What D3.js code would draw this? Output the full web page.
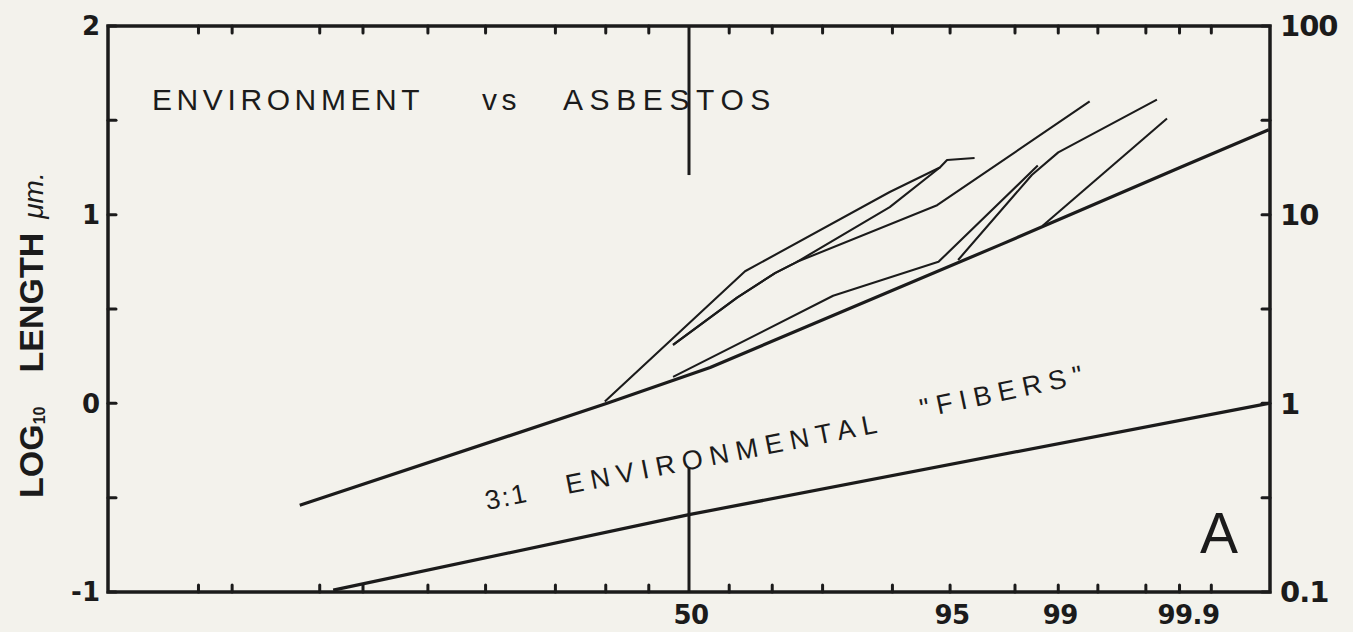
<!DOCTYPE html>
<html>
<head>
<meta charset="utf-8">
<script src="https://cdn.jsdelivr.net/npm/d3@7"></script>
<style>
  html, body { margin: 0; padding: 0; background: #f3f2ec; }
  svg { display: block; }
</style>
</head>
<body>
<svg id="chart" width="1353" height="632"></svg>
<script>
// ---------------- data ----------------
// x: cumulative percent (normal probability scale), y: log10 length (um)
const probDomain = [0.0126, 99.9874];
const probTicks = [0.1, 0.2, 1, 2, 5, 10, 20, 30, 40, 60, 70, 80, 90, 95, 98, 99, 99.5, 99.8, 99.9, 99.95];
const probLabelValues = [50, 95, 99, 99.9];
const probLabelTexts = ["50", "95", "99", "99.9"];
const logTicks = [-1, -0.5, 0, 0.5, 1, 1.5, 2];
const leftLabelValues = [2, 1, 0, -1];
const leftLabelTexts = ["2", "1", "0", "-1"];
const rightLabelValues = [2, 1, 0, -1];
const rightLabelTexts = ["100", "10", "1", "0.1"];
const midMarkerTop = [2, 1.21];     // vertical 50% marker, top part (log units)
const midMarkerBottom = [-1, -0.34]; // vertical 50% marker, bottom part

// 3:1 environmental "fibers" band - upper boundary
const upperBandP = [0.71, 30.3, 55.3, 97.5, 99.901, 99.987];
const upperBandV = [-0.54, 0.0, 0.19, 0.84, 1.25, 1.45];
// lower boundary
const lowerBandP = [1.25, 50, 99.987];
const lowerBandV = [-0.99, -0.59, 0.0];

// asbestos curves
const asb1P = [29.8, 63.8, 89.7, 94.3, 94.8, 96.4];
const asb1V = [0.01, 0.70, 1.12, 1.25, 1.29, 1.30];
const asb2P = [46.0, 61.9, 70.6, 75.2, 89.7, 94.3];
const asb2V = [0.31, 0.56, 0.69, 0.75, 1.04, 1.25];
const asb3P = [46.0, 61.9, 70.6, 75.2, 94.1, 99.42];
const asb3V = [0.31, 0.56, 0.69, 0.75, 1.05, 1.60];
const asb4P = [46.0, 81.8, 94.2, 98.6];
const asb4V = [0.14, 0.57, 0.75, 1.26];
const asb5P = [95.5, 98.46, 99.0, 99.84];
const asb5V = [0.76, 1.21, 1.33, 1.61];
const asb6P = [98.7, 99.87];
const asb6V = [0.94, 1.51];

// ---------------- helpers ----------------
function probit(p) {
  const a = [-3.969683028665376e+01, 2.209460984245205e+02, -2.759285104469687e+02, 1.383577518672690e+02, -3.066479806614716e+01, 2.506628277459239e+00];
  const b = [-5.447609879822406e+01, 1.615858368580409e+02, -1.556989798598866e+02, 6.680131188771972e+01, -1.328068155288572e+01];
  const c = [-7.784894002430293e-03, -3.223964580411365e-01, -2.400758277161838e+00, -2.549732539343734e+00, 4.374664141464968e+00, 2.938163982698783e+00];
  const d = [7.784695709041462e-03, 3.224671290700398e-01, 2.445134137142996e+00, 3.754408661907416e+00];
  const plow = 0.02425, phigh = 1 - plow;
  let q, r;
  if (p < plow) {
    q = Math.sqrt(-2 * Math.log(p));
    return (((((c[0]*q+c[1])*q+c[2])*q+c[3])*q+c[4])*q+c[5]) / ((((d[0]*q+d[1])*q+d[2])*q+d[3])*q+1);
  }
  if (p <= phigh) {
    q = p - 0.5; r = q * q;
    return (((((a[0]*r+a[1])*r+a[2])*r+a[3])*r+a[4])*r+a[5])*q / (((((b[0]*r+b[1])*r+b[2])*r+b[3])*r+b[4])*r+1);
  }
  q = Math.sqrt(-2 * Math.log(1 - p));
  return -(((((c[0]*q+c[1])*q+c[2])*q+c[3])*q+c[4])*q+c[5]) / ((((d[0]*q+d[1])*q+d[2])*q+d[3])*q+1);
}

const INK = "#1b1b1b";
const L = 108, R = 1270, T = 26, B = 592;

const xz = d3.scaleLinear()
  .domain([probit(probDomain[0] / 100), probit(probDomain[1] / 100)])
  .range([L, R]);
const X = p => xz(probit(p / 100));
const y = d3.scaleLinear().domain([-1, 2]).range([B, T]);

const svg = d3.select("#chart");

const zip = (P, V) => P.map((p, i) => ({ p, v: V[i] }));
const line = d3.line().x(d => X(d.p)).y(d => y(d.v));

// ---------------- frame ----------------
svg.append("rect")
  .attr("x", L).attr("y", T).attr("width", R - L).attr("height", B - T)
  .attr("fill", "none").attr("stroke", INK).attr("stroke-width", 3.5);

// top and bottom ticks
const tk = svg.append("g").attr("stroke", INK).attr("stroke-width", 3).attr("stroke-linecap", "round");
tk.selectAll("line.tt").data(probTicks).join("line")
  .attr("x1", d => X(d)).attr("x2", d => X(d))
  .attr("y1", T).attr("y2", T + 7);
tk.selectAll("line.bt").data(probTicks).join("line")
  .attr("x1", d => X(d)).attr("x2", d => X(d))
  .attr("y1", B).attr("y2", B - 7);
// left and right ticks
tk.selectAll("line.lt").data(logTicks).join("line")
  .attr("x1", L).attr("x2", L + 8)
  .attr("y1", d => y(d)).attr("y2", d => y(d));
tk.selectAll("line.rt").data(logTicks).join("line")
  .attr("x1", R).attr("x2", R - 8)
  .attr("y1", d => y(d)).attr("y2", d => y(d));

// 50% markers
svg.append("line")
  .attr("x1", X(50)).attr("x2", X(50))
  .attr("y1", y(midMarkerTop[0])).attr("y2", y(midMarkerTop[1]))
  .attr("stroke", INK).attr("stroke-width", 3);
svg.append("line")
  .attr("x1", X(50)).attr("x2", X(50))
  .attr("y1", y(midMarkerBottom[0])).attr("y2", y(midMarkerBottom[1]))
  .attr("stroke", INK).attr("stroke-width", 3);

// ---------------- tick labels ----------------
svg.append("g").selectAll("text").data(leftLabelValues).join("text")
  .attr("x", 100).attr("y", d => y(d)).attr("dy", "0.36em")
  .attr("text-anchor", "end")
  .attr("font-family", "DejaVu Sans").attr("font-weight", "bold").attr("font-size", 26)
  .attr("fill", INK)
  .text((d, i) => leftLabelTexts[i]);

svg.append("g").selectAll("text").data(rightLabelValues).join("text")
  .attr("x", 1280).attr("y", d => y(d)).attr("dy", "0.36em")
  .attr("text-anchor", "start")
  .attr("font-family", "DejaVu Sans").attr("font-weight", "bold").attr("font-size", 29)
  .attr("letter-spacing", -1)
  .attr("fill", INK)
  .text((d, i) => rightLabelTexts[i]);

svg.append("g").selectAll("text").data(probLabelValues).join("text")
  .attr("x", (d, i) => X(d) + (probLabelTexts[i] === "99.9" ? 9 : 2))
  .attr("y", 624)
  .attr("text-anchor", "middle")
  .attr("font-family", "DejaVu Sans").attr("font-weight", "bold").attr("font-size", 26)
  .attr("letter-spacing", -0.5)
  .attr("fill", INK)
  .text((d, i) => probLabelTexts[i]);

// y axis title
const yt = svg.append("text")
  .attr("transform", "translate(43,498) rotate(-90)")
  .attr("font-family", "Liberation Sans").attr("font-weight", "bold").attr("font-size", 34)
  .attr("fill", INK);
yt.append("tspan").text("LOG");
yt.append("tspan").attr("font-size", 16).attr("dy", 2).text("10");
yt.append("tspan").attr("dx", 34).attr("dy", -2).text("LENGTH");
yt.append("tspan").attr("dx", 14).attr("font-weight", "normal").attr("font-style", "italic")
  .attr("font-size", 28).text("\u03BCm.");

// ---------------- lines ----------------
svg.append("path").datum(zip(upperBandP, upperBandV))
  .attr("d", line).attr("fill", "none").attr("stroke", INK).attr("stroke-width", 3.2)
  .attr("stroke-linejoin", "round");
svg.append("path").datum(zip(lowerBandP, lowerBandV))
  .attr("d", line).attr("fill", "none").attr("stroke", INK).attr("stroke-width", 3.2)
  .attr("stroke-linejoin", "round");

const curves = [
  zip(asb1P, asb1V), zip(asb2P, asb2V), zip(asb3P, asb3V),
  zip(asb4P, asb4V), zip(asb5P, asb5V), zip(asb6P, asb6V)
];
svg.append("g").selectAll("path").data(curves).join("path")
  .attr("d", line).attr("fill", "none").attr("stroke", INK).attr("stroke-width", 2.1)
  .attr("stroke-linejoin", "round");

// ---------------- annotations ----------------
const title = svg.append("g")
  .attr("font-family", "Liberation Sans").attr("font-size", 30).attr("fill", INK)
  .attr("letter-spacing", 4.6);
title.append("text").attr("x", 152).attr("y", 110).text("ENVIRONMENT");
title.append("text").attr("x", 482).attr("y", 110).text("vs");
title.append("text").attr("x", 563).attr("y", 110).attr("letter-spacing", 6.6).text("ASBESTOS");

const band = svg.append("text")
  .attr("transform", "translate(487,510) rotate(-11.2)")
  .attr("font-family", "Liberation Sans").attr("font-size", 27).attr("fill", INK)
  .attr("letter-spacing", 7.2);
band.append("tspan").attr("x", 0).attr("letter-spacing", 2).text("3:1");
band.append("tspan").attr("x", 82).text("ENVIRONMENTAL");

svg.append("text")
  .attr("transform", "translate(922,418) rotate(-12)")
  .attr("font-family", "Liberation Sans").attr("font-size", 27).attr("fill", INK)
  .attr("letter-spacing", 7)
  .text("\"FIBERS\"");

svg.append("text")
  .attr("x", 1200).attr("y", 553)
  .attr("font-family", "Liberation Sans").attr("font-size", 57).attr("fill", INK)
  .text("A");
</script>
</body>
</html>
